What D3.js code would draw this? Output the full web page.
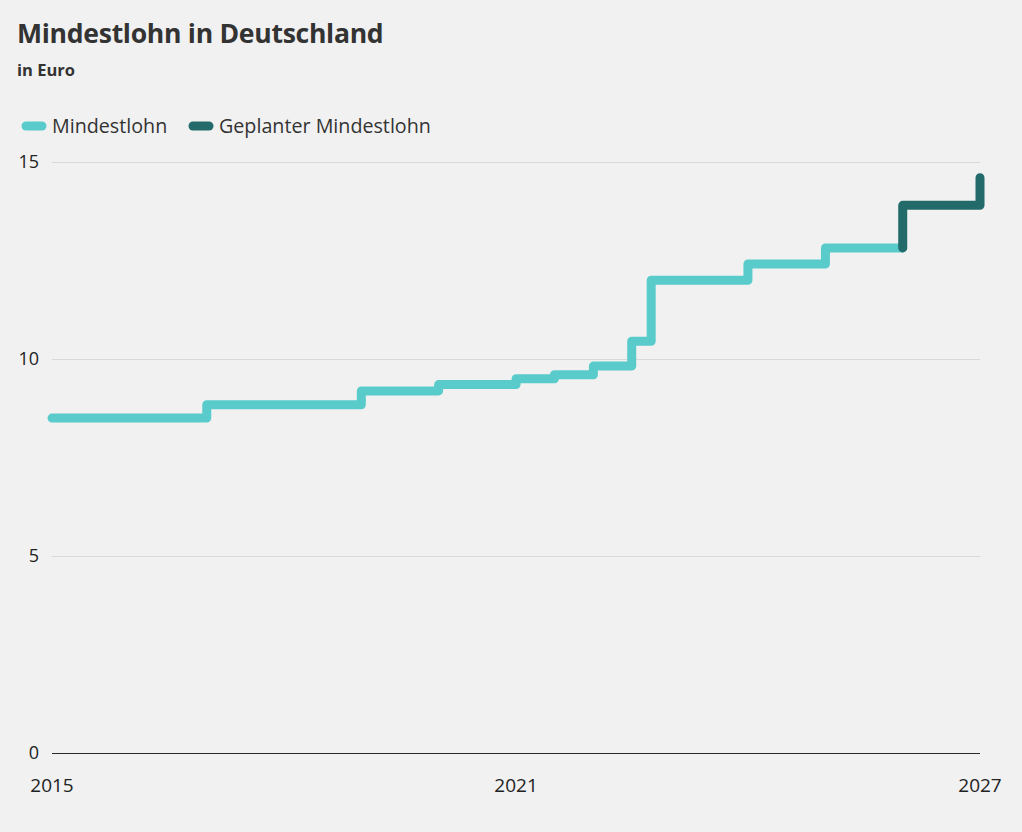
<!DOCTYPE html>
<html><head><meta charset="utf-8">
<script src="https://cdn.jsdelivr.net/npm/d3@7"></script>
<style>
html,body{margin:0;padding:0;background:#f1f1f1;}
svg{display:block;font-family:"Open Sans","Noto Sans",sans-serif;}
</style></head>
<body><svg id="c" width="1022" height="832"></svg>
<script>
// Data
const actualDates = ["2015-01-01","2017-01-01","2019-01-01","2020-01-01","2021-01-01","2021-07-01","2022-01-01","2022-07-01","2022-10-01","2024-01-01","2025-01-01","2026-01-01"];
const actualValues = [8.50, 8.84, 9.19, 9.35, 9.50, 9.60, 9.82, 10.45, 12.00, 12.41, 12.82, 12.82];
const plannedDates = ["2026-01-01","2026-01-01","2027-01-01"];
const plannedValues = [12.82, 13.90, 14.60];
const yTicks = [0, 5, 10, 15];
const xTickLabels = ["2015", "2021", "2027"];
const seriesNames = ["Mindestlohn", "Geplanter Mindestlohn"];
const colors = ["#5acbcb", "#236b6b"];

const svg = d3.select("#c");
const parse = d3.timeParse("%Y-%m-%d");
const x = d3.scaleTime().domain([parse("2015-01-01"), parse("2027-01-01")]).range([52, 980]);
const y = d3.scaleLinear().domain([0, 15]).range([753, 162]);

svg.append("rect").attr("width",1022).attr("height",832).attr("fill","#f1f1f1");

// Title
svg.append("text").attr("x",17).attr("y",43).attr("font-size",26.6).attr("font-weight",700)
  .attr("fill","#333").attr("letter-spacing","-0.3").text("Mindestlohn in Deutschland");
svg.append("text").attr("x",17).attr("y",76).attr("font-size",16.5).attr("font-weight",700)
  .attr("fill","#333").text("in Euro");

// Legend
const leg = [{x:22, tx:52}, {x:189, tx:219}];
seriesNames.forEach((n,i)=>{
  svg.append("line").attr("x1",leg[i].x+4).attr("x2",leg[i].x+20).attr("y1",126).attr("y2",126)
    .attr("stroke",colors[i]).attr("stroke-width",9).attr("stroke-linecap","round");
  svg.append("text").attr("x",leg[i].tx).attr("y",133).attr("font-size",19.7).attr("fill","#333").text(n);
});

// Gridlines
const grid = svg.append("g");
yTicks.forEach(t=>{
  grid.append("line").attr("x1",52).attr("x2",980).attr("y1",y(t)+0.5).attr("y2",y(t)+0.5)
    .attr("stroke", t===0 ? "#2a2a2a" : "#d8d8d8").attr("stroke-width", 1)
    .attr("shape-rendering","crispEdges");
  grid.append("text").attr("x",39).attr("y",y(t)+6).attr("text-anchor","end")
    .attr("font-size",18).attr("fill","#222").text(t);
});

// X labels
const xl = svg.append("g");
xTickLabels.forEach((t)=>{
  const xp = x(parse(t+"-01-01"));
  xl.append("text").attr("x",xp).attr("y",792).attr("text-anchor","middle")
    .attr("font-size",19).attr("fill","#222").text(t);
});

// Lines
const line = d3.line().x(d=>x(d[0])).y(d=>y(d[1])).curve(d3.curveStepAfter);
const actual = actualDates.map((d,i)=>[parse(d), actualValues[i]]);
const planned = plannedDates.map((d,i)=>[parse(d), plannedValues[i]]);
svg.append("path").datum(actual).attr("d",line).attr("fill","none").attr("stroke",colors[0])
  .attr("stroke-width",9).attr("stroke-linecap","round").attr("stroke-linejoin","round");
svg.append("path").datum(planned).attr("d",line).attr("fill","none").attr("stroke",colors[1])
  .attr("stroke-width",9).attr("stroke-linecap","round").attr("stroke-linejoin","round");
</script></body></html>
